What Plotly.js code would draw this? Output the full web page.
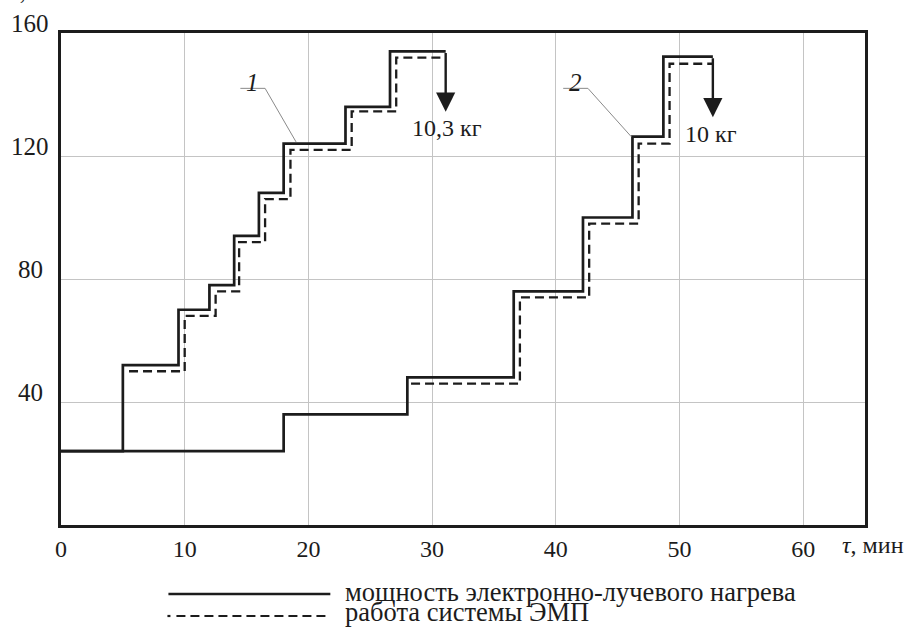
<!DOCTYPE html>
<html>
<head>
<meta charset="utf-8">
<script src="https://cdn.plot.ly/plotly-3.0.1.min.js"></script>
<style>
  html, body { margin: 0; padding: 0; background: #fff; }
  #chart { width: 906px; height: 628px; }
</style>
</head>
<body>
<div id="chart"></div>
<script>
// ---- Data ----
// Curve 1: electron-beam heating power (solid) and EMP system (dashed)
const x1  = [0, 5, 9.5, 12, 14, 16, 18, 23, 26.6, 31.1];
const y1  = [24, 52, 70, 78, 94, 108, 124, 136, 154, 154];
const x1d = [5.5, 10, 12.5, 14.4, 16.5, 18.55, 23.5, 27.1, 31.1];
const y1d = [50, 68, 76, 92, 106, 122, 134.5, 152, 152];
// Curve 2
const x2  = [0, 18, 28, 36.6, 42.2, 46.2, 48.7, 52.7];
const y2  = [24, 36, 48, 76, 100, 126.3, 152.3, 152.3];
const x2d = [28.3, 37.1, 42.7, 46.7, 49.2, 52.7];
const y2d = [46, 74, 98, 124, 150, 150];
// Drop (arrow) end levels and mass labels
const dropTo = [134.4, 132.6];
const massLabels = ["10,3 кг", "10 кг"];
const curveLabels = ["1", "2"];
// Axis ticks
const xTicks = [0, 10, 20, 30, 40, 50, 60];
const yTicks = [40, 80, 120, 160];
const legendNames = ["мощность электронно-лучевого нагрева", "работа системы ЭМП"];

const FONT = "Liberation Serif, Times New Roman, serif";
const INK = "#1c1c1c";

const solid = {color: INK, width: 2.7, shape: "hv"};
const dashed = {color: INK, width: 2.3, shape: "hv", dash: "9px,5px"};

const traces = [
  {x: x1, y: y1, mode: "lines", line: solid, name: legendNames[0], showlegend: false},
  {x: x1d, y: y1d, mode: "lines", line: dashed, name: legendNames[1], showlegend: false},
  {x: x2, y: y2, mode: "lines", line: solid, name: legendNames[0], showlegend: false},
  {x: x2d, y: y2d, mode: "lines", line: dashed, name: legendNames[1], showlegend: false}
];

const ends = [[x1[x1.length-1], y1[y1.length-1]], [x2[x2.length-1], y2[y2.length-1]]];

const annotations = [];
ends.forEach((e, i) => {
  annotations.push({
    x: e[0], y: dropTo[i], xref: "x", yref: "y",
    ax: e[0], ay: e[1], axref: "x", ayref: "y",
    showarrow: true, arrowhead: 2, arrowsize: 1.6, arrowwidth: 2.4, arrowcolor: INK,
    standoff: 0, startstandoff: 0, text: ""
  });
});
// mass labels below arrows
annotations.push({x: 31.2, y: 129, xref: "x", yref: "y", text: massLabels[0], showarrow: false,
  font: {family: FONT, size: 24, color: INK}, xanchor: "center", yanchor: "middle"});
annotations.push({x: 52.55, y: 127, xref: "x", yref: "y", text: massLabels[1], showarrow: false,
  font: {family: FONT, size: 24, color: INK}, xanchor: "center", yanchor: "middle"});
// curve numbers
annotations.push({x: 15.5, y: 144, xref: "x", yref: "y", text: "<i>" + curveLabels[0] + "</i>", showarrow: false,
  font: {family: FONT, size: 25, color: INK}, xanchor: "center", yanchor: "middle"});
annotations.push({x: 41.6, y: 144, xref: "x", yref: "y", text: "<i>" + curveLabels[1] + "</i>", showarrow: false,
  font: {family: FONT, size: 25, color: INK}, xanchor: "center", yanchor: "middle"});
// y tick labels (centred, sitting slightly above their grid lines)
yTicks.forEach(v => {
  annotations.push({x: 0, y: v, xref: "paper", yref: "y", xanchor: "center", yanchor: "middle",
    xshift: -31, yshift: 10, text: String(v), showarrow: false,
    font: {family: FONT, size: 25, color: INK}});
});
// axis titles
annotations.push({x: 63.0, y: 0, xref: "x", yref: "paper", yanchor: "top", xanchor: "left", yshift: -5,
  text: "<i>τ</i>, мин", showarrow: false, font: {family: FONT, size: 24, color: INK}});
annotations.push({x: 0, y: 1, xref: "paper", yref: "paper", xanchor: "center", yanchor: "bottom", xshift: -24, yshift: 27,
  text: "<i>P</i>, кВт", showarrow: false, font: {family: FONT, size: 24, color: INK}});

// Legend (manual) - positions in paper coords
const L = 60.5, R = 865, T = 33, B = 525;
const px = p => (p - L) / (R - L);
const py = p => (B - p) / (B - T);
legendNames.forEach((n, i) => {
  annotations.push({x: px(343), y: py(i === 0 ? 592 : 612), xref: "paper", yref: "paper",
    xanchor: "left", yanchor: "middle", text: n, showarrow: false,
    font: {family: FONT, size: 26.5, color: INK}});
});

const shapes = [
  {type: "line", xref: "paper", yref: "paper", x0: px(168), x1: px(330), y0: py(594), y1: py(594),
   line: {color: INK, width: 2.4}},
  {type: "line", xref: "paper", yref: "paper", x0: px(176), x1: px(330), y0: py(616), y1: py(616),
   line: {color: INK, width: 2.2, dash: "9px,5px"}},
  {type: "line", xref: "paper", yref: "paper", x0: px(167), x1: px(170), y0: py(616), y1: py(616),
   line: {color: INK, width: 2.2}},
  // leader lines for curve labels
  {type: "path", xref: "x", yref: "y", path: "M 14.5 142 L 16.5 142 L 19.0 124.6",
   line: {color: "#8a8a8a", width: 1}},
  {type: "path", xref: "x", yref: "y", path: "M 40.6 142 L 42.6 142 L 46.1 126.3",
   line: {color: "#8a8a8a", width: 1}}
];

const layout = {
  width: 906, height: 628,
  margin: {l: 60.5, r: 41, t: 33, b: 103},
  paper_bgcolor: "#fff", plot_bgcolor: "#fff",
  showlegend: false,
  font: {family: FONT, size: 24, color: INK},
  xaxis: {
    range: [0, 65], tickvals: xTicks, ticktext: xTicks.map(String),
    showgrid: true, gridcolor: "#c4c4c4", gridwidth: 1,
    showline: true, mirror: true, linecolor: INK, linewidth: 2.6,
    ticks: "", zeroline: false, ticklabelstandoff: 1,
    tickfont: {family: FONT, size: 24, color: INK}
  },
  yaxis: {
    range: [0, 160], tickvals: yTicks,
    showgrid: true, gridcolor: "#c4c4c4", gridwidth: 1,
    showline: true, mirror: true, linecolor: INK, linewidth: 2.6,
    ticks: "", zeroline: false, showticklabels: false
  },
  annotations: annotations,
  shapes: shapes
};

Plotly.newPlot("chart", traces, layout, {staticPlot: true, displayModeBar: false});
</script>
</body>
</html>
